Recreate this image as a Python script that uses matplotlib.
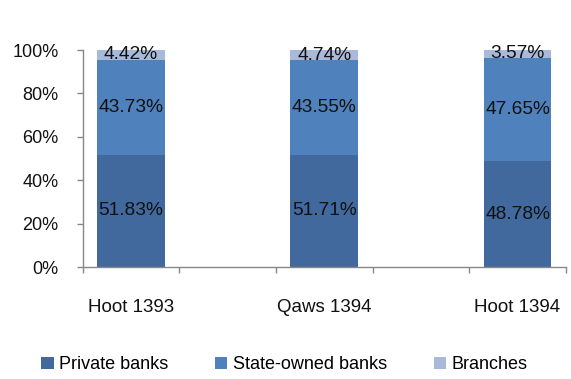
import matplotlib
matplotlib.use("Agg")
import matplotlib.pyplot as plt
import numpy as np

plt.rcParams['font.family'] = ['Liberation Sans', 'DejaVu Sans']

categories = ["Hoot 1393", "", "Qaws 1394", "", "Hoot 1394"]
private = [51.83, None, 51.71, None, 48.78]
state = [43.73, None, 43.55, None, 47.65]
branches = [4.42, None, 4.74, None, 3.57]
series_names = ["Private banks", "State-owned banks", "Branches"]
colors = ["#41699D", "#4F81BD", "#A9B9DA"]

fig = plt.figure(figsize=(5.71, 3.79), dpi=100)
ax = fig.add_axes([0.1448, 0.2955, 0.8462, 0.5725])

x = np.arange(len(categories))
idx = [i for i, v in enumerate(private) if v is not None]
bottom = np.zeros(len(idx))
handles = []
for name, vals, c in zip(series_names, [private, state, branches], colors):
    v = np.array([vals[i] for i in idx])
    h = ax.bar(x[idx], v, bottom=bottom, width=0.70, color=c, edgecolor='none', label=name)
    handles.append(h)
    for xi, b, vi in zip(x[idx], bottom, v):
        ax.text(xi, b + vi / 2, f"{vi:.2f}%", ha='center', va='center', fontsize=13.8, color='#111111')
    bottom = bottom + v

ax.set_xlim(-0.5, len(categories) - 0.5)
ax.set_ylim(0, 100)
ax.set_yticks([0, 20, 40, 60, 80, 100])
ax.set_yticklabels([f"{t}%" for t in [0, 20, 40, 60, 80, 100]], fontsize=13, color='#111111')
ax.set_xticks(np.arange(-0.5, len(categories) + 0.5, 1))
ax.set_xticklabels([])
ax.set_xticks(x, minor=True)
ax.set_xticklabels(categories, minor=True, fontsize=13.5, color='#111111')
ax.tick_params(axis='x', which='minor', length=0, pad=23)
ax.tick_params(axis='x', which='major', length=4.5, color='#888888', width=1)
ax.tick_params(axis='y', length=4.5, color='#888888', width=1, pad=13)
for s in ['top', 'right']:
    ax.spines[s].set_visible(False)
for s in ['left', 'bottom']:
    ax.spines[s].set_color('#888888')
    ax.spines[s].set_linewidth(1)

fig.legend(handles=handles, labels=series_names, loc='center', bbox_to_anchor=(0.498, 0.037),
           ncol=3, frameon=False, fontsize=13, handlelength=0.67, handleheight=0.67,
           handletextpad=0.3, columnspacing=2.6)

fig.savefig("out.png", dpi=100)
